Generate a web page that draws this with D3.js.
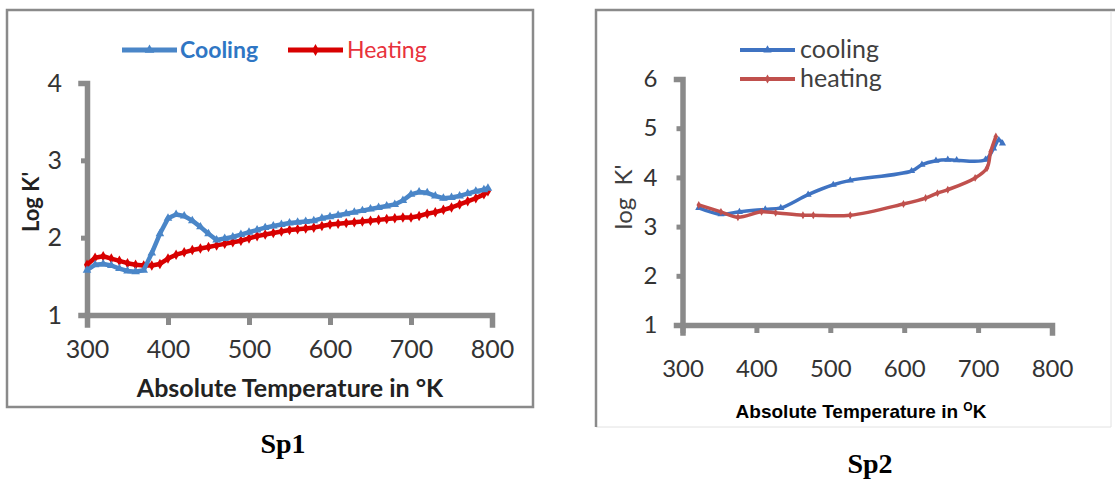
<!DOCTYPE html>
<html>
<head>
<meta charset="utf-8">
<script src="https://cdn.jsdelivr.net/npm/d3@7"></script>
<style>
  body { margin: 0; background: #fff; }
  svg { display: block; }
</style>
</head>
<body>
<svg id="chart" width="1115" height="481"></svg>
<script>
// Tick labels shared by both panels
const xTicks = [300, 400, 500, 600, 700, 800];
const sp1YTicks = [1, 2, 3, 4];
const sp2YTicks = [1, 2, 3, 4, 5, 6];

// Sp1 - read every 10 K off the picture
const sp1Temp = [300, 310, 320, 330, 340, 350, 360, 370, 380, 390, 400, 410, 420, 430, 440, 450,
  460, 470, 480, 490, 500, 510, 520, 530, 540, 550, 560, 570, 580, 590, 600, 610, 620, 630, 640,
  650, 660, 670, 680, 690, 700, 710, 720, 730, 740, 750, 760, 770, 780, 790, 795];
const sp1Cooling = [1.58, 1.65, 1.66, 1.64, 1.60, 1.57, 1.56, 1.58, 1.80, 2.05, 2.25, 2.30, 2.28,
  2.22, 2.14, 2.05, 1.97, 1.99, 2.01, 2.04, 2.07, 2.10, 2.13, 2.15, 2.17, 2.19, 2.20, 2.21, 2.22,
  2.25, 2.27, 2.29, 2.31, 2.33, 2.35, 2.37, 2.39, 2.41, 2.43, 2.48, 2.56, 2.59, 2.58, 2.54, 2.51,
  2.52, 2.54, 2.57, 2.60, 2.62, 2.64];
const sp1Heating = [1.65, 1.74, 1.76, 1.73, 1.70, 1.67, 1.65, 1.64, 1.64, 1.66, 1.73, 1.78, 1.81,
  1.84, 1.86, 1.88, 1.90, 1.92, 1.94, 1.96, 1.99, 2.02, 2.04, 2.06, 2.08, 2.10, 2.11, 2.12, 2.13,
  2.15, 2.17, 2.18, 2.19, 2.20, 2.21, 2.22, 2.23, 2.24, 2.25, 2.26, 2.26, 2.28, 2.31, 2.33, 2.36,
  2.39, 2.43, 2.47, 2.51, 2.56, 2.60];

// Sp2
const sp2CoolingTemp = [322, 352, 377, 412, 433, 470, 504, 527, 610, 624, 643, 659, 671, 710, 721, 728, 733];
const sp2Cooling = [3.38, 3.25, 3.30, 3.35, 3.38, 3.65, 3.85, 3.94, 4.13, 4.26, 4.34, 4.36, 4.35, 4.36, 4.59, 4.76, 4.69];
const sp2HeatingTemp = [322, 352, 375, 407, 426, 463, 477, 527, 599, 629, 645, 659, 696, 712, 717, 724];
const sp2Heating = [3.44, 3.30, 3.19, 3.30, 3.28, 3.23, 3.23, 3.23, 3.46, 3.58, 3.68, 3.75, 3.99, 4.19, 4.52, 4.83];

const svg = d3.select("#chart");
const axisGray = "#8a8a8a";

// ---------- frames ----------
svg.append("rect")
  .attr("x", 7).attr("y", 10)
  .attr("width", 526).attr("height", 397)
  .attr("fill", "#fff")
  .attr("stroke", axisGray)
  .attr("stroke-width", 2.5);

svg.append("path")
  .attr("d", "M1111,12V427M596,427H1111")
  .attr("fill", "none")
  .attr("stroke", "#e2e2e2")
  .attr("stroke-width", 1);
svg.append("path")
  .attr("d", "M596,427V10H1115")
  .attr("fill", "none")
  .attr("stroke", axisGray)
  .attr("stroke-width", 2.5);

function drawAxes(x, y, opt) {
  const xAxis = svg.append("g")
    .attr("transform", `translate(0,${y.range()[0]})`)
    .call(d3.axisBottom(x).tickValues(xTicks).tickSizeOuter(0)
      .tickSize(opt.xTickSize).tickPadding(opt.xPad));
  const yAxis = svg.append("g")
    .attr("transform", `translate(${x.range()[0]},0)`)
    .call(d3.axisLeft(y).tickValues(opt.yTicks).tickSizeOuter(0)
      .tickSize(6).tickPadding(opt.yPad).tickFormat(d3.format("d")));

  [xAxis, yAxis].forEach(g => {
    g.select(".domain")
      .attr("stroke", axisGray)
      .attr("stroke-width", 5.5)
      .attr("stroke-linecap", "square");
    g.selectAll(".tick line")
      .attr("stroke", axisGray)
      .attr("stroke-width", 5);
    g.selectAll(".tick text")
      .attr("fill", "#333")
      .style("font-family", "Lato, 'Open Sans', sans-serif")
      .style("font-size", opt.fontSize + "px");
  });
}

function drawSeries(x, y, temps, vals, color, shape, o) {
  const pts = temps.map((t, i) => ({ t, v: vals[i] }));
  const line = d3.line()
    .x(d => x(d.t))
    .y(d => y(d.v))
    .curve(o.curve);
  svg.append("path")
    .datum(pts)
    .attr("d", line)
    .attr("fill", "none")
    .attr("stroke", color)
    .attr("stroke-width", o.width)
    .attr("stroke-linejoin", "round");
  svg.append("g").selectAll("path")
    .data(pts)
    .enter().append("path")
    .attr("transform", d => `translate(${x(d.t)},${y(d.v)})`)
    .attr("d", d3.symbol(shape, o.size))
    .attr("fill", color);
}

function legendEntry(x1, x2, y, color, shape, size, width) {
  svg.append("line")
    .attr("x1", x1).attr("x2", x2)
    .attr("y1", y).attr("y2", y)
    .attr("stroke", color)
    .attr("stroke-width", width);
  svg.append("path")
    .attr("transform", `translate(${(x1 + x2) / 2},${y})`)
    .attr("d", d3.symbol(shape, size))
    .attr("fill", color);
}

// ---------- Sp1 ----------
const x1 = d3.scaleLinear().domain([300, 800]).range([87, 492]);
const y1 = d3.scaleLinear().domain([1, 4]).range([315, 83]);

drawAxes(x1, y1, { yTicks: sp1YTicks, xTickSize: 10, xPad: 15, yPad: 19, fontSize: 25 });

drawSeries(x1, y1, sp1Temp, sp1Heating, "#d80000", d3.symbolDiamond,
  { width: 4.5, size: 32, curve: d3.curveLinear });
drawSeries(x1, y1, sp1Temp, sp1Cooling, "#4a86c8", d3.symbolTriangle,
  { width: 4.5, size: 32, curve: d3.curveLinear });

legendEntry(122, 177, 50, "#4a86c8", d3.symbolTriangle, 40, 5);
svg.append("text")
  .attr("x", 180).attr("y", 58)
  .attr("fill", "#2f76c4")
  .style("font-family", "Lato, sans-serif")
  .style("font-weight", "bold")
  .style("font-size", "23px")
  .text("Cooling");
legendEntry(288, 343, 50, "#d80000", d3.symbolDiamond, 40, 5);
svg.append("text")
  .attr("x", 347).attr("y", 58)
  .attr("fill", "#e8323c")
  .style("font-family", "Lato, sans-serif")
  .style("font-size", "23px")
  .text("Heating");

svg.append("text")
  .attr("x", 290).attr("y", 397)
  .attr("text-anchor", "middle")
  .attr("fill", "#222")
  .style("font-family", "Lato, sans-serif")
  .style("font-weight", "bold")
  .style("font-size", "25px")
  .text("Absolute Temperature in °K");

svg.append("text")
  .attr("transform", "translate(39,202) rotate(-90)")
  .attr("text-anchor", "middle")
  .attr("fill", "#222")
  .style("font-family", "Lato, sans-serif")
  .style("font-weight", "bold")
  .style("font-size", "22px")
  .text("Log K'");

// ---------- Sp2 ----------
const x2 = d3.scaleLinear().domain([300, 800]).range([682.5, 1052]);
const y2 = d3.scaleLinear().domain([1, 6]).range([325, 79]);

drawAxes(x2, y2, { yTicks: sp2YTicks, xTickSize: 8, xPad: 27, yPad: 19, fontSize: 24 });

drawSeries(x2, y2, sp2CoolingTemp, sp2Cooling, "#3f73c2", d3.symbolTriangle,
  { width: 3.5, size: 22, curve: d3.curveCatmullRom.alpha(0.5) });
drawSeries(x2, y2, sp2HeatingTemp, sp2Heating, "#c0504d", d3.symbolDiamond,
  { width: 3.5, size: 18, curve: d3.curveCatmullRom.alpha(0.5) });

legendEntry(740, 795, 50, "#3f73c2", d3.symbolTriangle, 30, 4);
legendEntry(740, 795, 79, "#c0504d", d3.symbolDiamond, 24, 4);
svg.append("text")
  .attr("x", 800).attr("y", 58)
  .attr("fill", "#404040")
  .style("font-family", "Lato, sans-serif")
  .style("font-size", "25px")
  .text("cooling");
svg.append("text")
  .attr("x", 800).attr("y", 87)
  .attr("fill", "#404040")
  .style("font-family", "Lato, sans-serif")
  .style("font-size", "25px")
  .text("heating");

const sp2XLabel = svg.append("text")
  .attr("x", 861).attr("y", 418)
  .attr("text-anchor", "middle")
  .attr("fill", "#000")
  .style("font-family", "'Liberation Sans', Arial, sans-serif")
  .style("font-weight", "bold")
  .style("font-size", "19px");
sp2XLabel.append("tspan").text("Absolute Temperature in ");
sp2XLabel.append("tspan").attr("dy", -7).style("font-size", "12px").text("O");
sp2XLabel.append("tspan").attr("dy", 7).text("K");

svg.append("text")
  .attr("transform", "translate(632,197) rotate(-90)")
  .attr("text-anchor", "middle")
  .attr("fill", "#404040")
  .style("font-family", "Lato, sans-serif")
  .style("font-size", "24px")
  .style("white-space", "pre")
  .text("log  K'");

// ---------- panel captions ----------
svg.append("text")
  .attr("x", 283).attr("y", 453)
  .attr("text-anchor", "middle")
  .style("font-family", "'Liberation Serif', 'Times New Roman', serif")
  .style("font-weight", "bold")
  .style("font-size", "28px")
  .text("Sp1");
svg.append("text")
  .attr("x", 870).attr("y", 473)
  .attr("text-anchor", "middle")
  .style("font-family", "'Liberation Serif', 'Times New Roman', serif")
  .style("font-weight", "bold")
  .style("font-size", "28px")
  .text("Sp2");
</script>
</body>
</html>
